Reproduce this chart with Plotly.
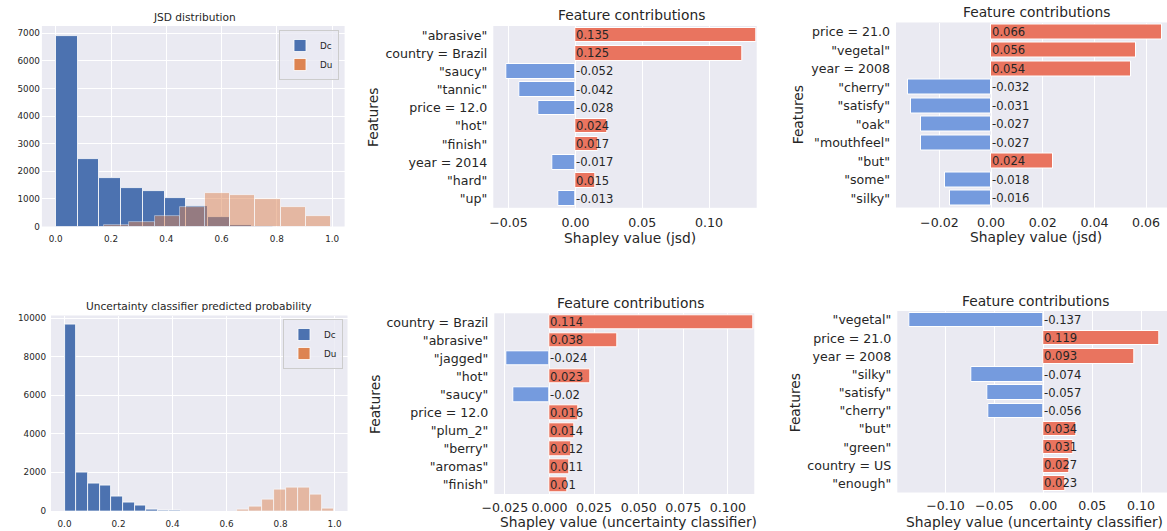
import numpy as np
import plotly.graph_objects as go

# ---------------- data ----------------
# JSD distribution histogram (counts per equal-width bin)
jsd_dc_range = [0.0, 0.787]
jsd_dc_counts = [6910, 2450, 1755, 1410, 1270, 1030, 730, 350, 65, 10]
jsd_du_range = [0.175, 0.995]
jsd_du_counts = [50, 160, 390, 690, 1200, 1150, 995, 705, 375]

# Uncertainty classifier predicted probability histogram
unc_dc_range = [0.0, 0.432]
unc_dc_counts = [9650, 2010, 1400, 1320, 760, 460, 265, 55, 8, 3]
unc_du_range = [0.64, 0.999]
unc_du_counts = [95, 250, 615, 1135, 1225, 1200, 845, 145]

# Feature contributions (Shapley values)
jsd1_features = ['"abrasive"', 'country = Brazil', '"saucy"', '"tannic"', 'price = 12.0',
                 '"hot"', '"finish"', 'year = 2014', '"hard"', '"up"']
jsd1_values = [0.135, 0.125, -0.052, -0.042, -0.028, 0.024, 0.017, -0.017, 0.015, -0.013]

jsd2_features = ['price = 21.0', '"vegetal"', 'year = 2008', '"cherry"', '"satisfy"',
                 '"oak"', '"mouthfeel"', '"but"', '"some"', '"silky"']
jsd2_values = [0.066, 0.056, 0.054, -0.032, -0.031, -0.027, -0.027, 0.024, -0.018, -0.016]

unc1_features = ['country = Brazil', '"abrasive"', '"jagged"', '"hot"', '"saucy"',
                 'price = 12.0', '"plum_2"', '"berry"', '"aromas"', '"finish"']
unc1_values = [0.114, 0.038, -0.024, 0.023, -0.02, 0.016, 0.014, 0.012, 0.011, 0.01]

unc2_features = ['"vegetal"', 'price = 21.0', 'year = 2008', '"silky"', '"satisfy"',
                 '"cherry"', '"but"', '"green"', 'country = US', '"enough"']
unc2_values = [-0.137, 0.119, 0.093, -0.074, -0.057, -0.056, 0.034, 0.031, 0.027, 0.023]

# ---------------- style ----------------
W, H = 1167, 531
FONT = "DejaVu Sans"
TXT = "#262626"
BG = "#EAEAF2"
DC_COLOR = "#4C72B0"
DU_COLOR = "#DD8452"
POS_COLOR = "#E9745F"
NEG_COLOR = "#759BDE"


def px_x(x):
    return x / W


def px_y(y):
    return 1 - y / H


fig = go.Figure()


def hist_traces(rng, counts, name, color, opacity, xa, ya, legend, showlegend=True):
    edges = np.linspace(rng[0], rng[1], len(counts) + 1)
    centers = (edges[:-1] + edges[1:]) / 2
    widths = np.diff(edges)
    fig.add_trace(go.Bar(
        x=centers, y=counts, width=widths, name=name,
        marker=dict(color=color, opacity=opacity, line=dict(color="white", width=0.8)),
        xaxis=xa, yaxis=ya, legend=legend, showlegend=showlegend,
        hoverinfo="skip",
    ))


hist_traces(jsd_dc_range, jsd_dc_counts, "Dc", DC_COLOR, 1.0, "x", "y", "legend")
hist_traces(jsd_du_range, jsd_du_counts, "Du", DU_COLOR, 0.5, "x", "y", "legend")
hist_traces(unc_dc_range, unc_dc_counts, "Dc", DC_COLOR, 1.0, "x4", "y4", "legend2")
hist_traces(unc_du_range, unc_du_counts, "Du", DU_COLOR, 0.5, "x4", "y4", "legend2")

annotations = []


def contrib_panel(features, values, xa, ya):
    colors = [POS_COLOR if v > 0 else NEG_COLOR for v in values]
    fig.add_trace(go.Bar(
        x=values, y=features, orientation="h", width=0.8,
        marker=dict(color=colors, line=dict(color="white", width=1)),
        xaxis=xa, yaxis=ya, showlegend=False, hoverinfo="skip",
    ))
    for i, v in enumerate(values):
        annotations.append(dict(
            x=0, y=i, xref=xa, yref=ya, text=str(v), showarrow=False,
            xanchor="left", yanchor="middle", xshift=-1,
            font=dict(family=FONT, size=11.6, color=TXT),
        ))


contrib_panel(jsd1_features, jsd1_values, "x2", "y2")
contrib_panel(jsd2_features, jsd2_values, "x3", "y3")
contrib_panel(unc1_features, unc1_values, "x5", "y5")
contrib_panel(unc2_features, unc2_values, "x6", "y6")


def text_ann(text, x, y, size, angle=0):
    annotations.append(dict(
        text=text, x=px_x(x), y=px_y(y), xref="paper", yref="paper",
        showarrow=False, xanchor="center", yanchor="middle", textangle=angle,
        font=dict(family=FONT, size=size, color=TXT),
    ))


# titles
text_ann("JSD distribution", 194, 16.7, 10.6)
text_ann("Uncertainty classifier predicted probability", 199, 305.7, 10.6)
text_ann("Feature contributions", 631, 15, 13.8)
text_ann("Feature contributions", 1036, 11.7, 13.8)
text_ann("Feature contributions", 630, 303.3, 13.8)
text_ann("Feature contributions", 1035.3, 300.7, 13.8)
# x-axis titles
text_ann("Shapley value (jsd)", 630.3, 238.3, 13.8)
text_ann("Shapley value (jsd)", 1035.8, 237.3, 13.8)
text_ann("Shapley value (uncertainty classifier)", 628.3, 522, 13.8)
text_ann("Shapley value (uncertainty classifier)", 1034.5, 522, 13.8)
# y-axis titles
text_ann("Features", 373, 117, 13.8, -90)
text_ann("Features", 798.3, 115, 13.8, -90)
text_ann("Features", 375, 405, 13.8, -90)
text_ann("Features", 795, 403.3, 13.8, -90)


def num_axis(dom, rng, dtick, fmt, size, anchor, standoff=3):
    return dict(domain=dom, range=rng, dtick=dtick, tick0=0, tickformat=fmt,
                showgrid=True, gridcolor="white", gridwidth=1, zeroline=False,
                showline=False, ticks="", ticklabelstandoff=standoff,
                automargin=False,
                tickfont=dict(family=FONT, size=size, color=TXT), anchor=anchor,
                fixedrange=True)


def cat_axis(dom, features, anchor, size=12.6):
    return dict(domain=dom, type="category", categoryorder="array",
                categoryarray=features, range=[len(features) - 0.5, -0.5],
                showgrid=False, zeroline=False, showline=False, ticks="",
                ticklabelstandoff=5, automargin=False,
                tickfont=dict(family=FONT, size=size, color=TXT), anchor=anchor,
                fixedrange=True)


def dx(a, b):
    return [px_x(a), min(px_x(b), 1.0)]


def dy(top, bottom):
    return [px_y(bottom), px_y(top)]


legend_style = dict(bgcolor="rgba(234,234,242,0.8)", bordercolor="#CCCCCC", borderwidth=1,
                    font=dict(family=FONT, size=8.8, color=TXT), xanchor="right",
                    yanchor="top", itemwidth=30, tracegroupgap=0)

fig.update_layout(
    template="none",
    width=W, height=H,
    margin=dict(l=0, r=0, t=0, b=0, pad=0),
    paper_bgcolor="white", plot_bgcolor=BG,
    barmode="overlay", bargap=0,
    font=dict(family=FONT, color=TXT),
    annotations=annotations,
    # A: JSD histogram
    xaxis=num_axis(dx(41.9, 344.6), [-0.05, 1.045], 0.2, ".1f", 8.8, "y", 6),
    yaxis=num_axis(dy(26, 226.5), [0, 7260], 1000, "d", 8.8, "x", 1),
    # B
    xaxis2=num_axis(dx(493.3, 756.7), [-0.0614, 0.1356], 0.05, ".2f", 12.6, "y2", 6),
    yaxis2=cat_axis(dy(26, 207.8), jsd1_features, "x2"),
    # C
    xaxis3=num_axis(dx(896, 1167), [-0.0368, 0.0681], 0.02, ".2f", 12.6, "y3", 6),
    yaxis3=cat_axis(dy(22.5, 207.5), jsd2_features, "x3"),
    # D: uncertainty histogram
    xaxis4=num_axis(dx(51, 347.5), [-0.05, 1.048], 0.2, ".1f", 8.8, "y4", 6),
    yaxis4=num_axis(dy(315.5, 511), [0, 10130], 2000, "d", 8.8, "x4", 4),
    # E
    xaxis5=num_axis(dx(494.3, 754.3), [-0.0309, 0.1148], 0.025, ".3f", 12.6, "y5", 4),
    yaxis5=cat_axis(dy(313.3, 494), unc1_features, "x5"),
    # F
    xaxis6=num_axis(dx(897.3, 1167), [-0.1493, 0.1265], 0.05, ".2f", 12.6, "y6", 4),
    yaxis6=cat_axis(dy(311, 492.5), unc2_features, "x6"),
    legend=dict(x=px_x(339), y=px_y(30), **legend_style),
    legend2=dict(x=px_x(343), y=px_y(319), **legend_style),
)

fig.write_html(
    "out.html",
    config={"displayModeBar": False},
    post_script="document.body.style.margin='0';document.body.style.overflow='hidden';",
)
